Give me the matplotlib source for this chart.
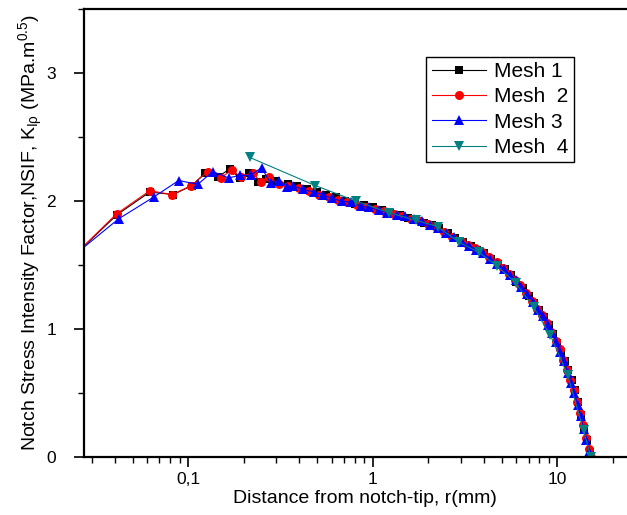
import matplotlib
matplotlib.use('Agg')
import matplotlib.pyplot as plt
from matplotlib.ticker import LogLocator, FixedLocator, FuncFormatter, NullFormatter

plt.rcParams['font.family'] = ['Liberation Sans', 'DejaVu Sans']
plt.rcParams['mathtext.default'] = 'regular'

# --- data ---
mesh1_r = [0.02, 0.041, 0.062, 0.083, 0.105, 0.124, 0.146, 0.168, 0.19, 0.213, 0.238, 0.265,
           0.30, 0.346, 0.39, 0.44, 0.50, 0.56, 0.63, 0.71, 0.80, 0.90, 1.0, 1.12, 1.25, 1.4,
           1.55, 1.72, 1.9, 2.1, 2.3, 2.55, 2.8, 3.1, 3.4, 3.7, 4.0, 4.4, 4.8, 5.2, 5.6, 6.0,
           6.5, 7.0, 7.5, 8.0, 8.5, 9.0, 9.5, 10.0, 10.5, 11.0, 11.5, 12.0, 12.5, 13.0, 13.5,
           14.0, 14.5, 15.0, 15.3]
mesh1_k = [1.46, 1.89, 2.07, 2.05, 2.12, 2.22, 2.19, 2.25, 2.18, 2.22, 2.15, 2.17,
           2.16, 2.13, 2.12, 2.09, 2.07, 2.05, 2.03, 2.00, 1.98, 1.97, 1.95, 1.93, 1.91, 1.89,
           1.87, 1.85, 1.83, 1.81, 1.79, 1.75, 1.71, 1.68, 1.65, 1.62, 1.59, 1.55, 1.51, 1.47,
           1.42, 1.37, 1.32, 1.26, 1.20, 1.15, 1.09, 1.03, 0.96, 0.89, 0.82, 0.75, 0.68, 0.60,
           0.52, 0.43, 0.33, 0.23, 0.13, 0.04, 0.0]

mesh2_r = [0.02, 0.041, 0.062, 0.082, 0.104, 0.128, 0.15, 0.172, 0.193, 0.224, 0.247, 0.273,
           0.31, 0.35, 0.40, 0.45, 0.51, 0.58, 0.65, 0.73, 0.82, 0.92, 1.03, 1.15, 1.3, 1.45,
           1.62, 1.8, 2.0, 2.2, 2.45, 2.7, 3.0, 3.3, 3.6, 3.9, 4.3, 4.7, 5.1, 5.5, 5.9, 6.3,
           6.8, 7.3, 7.8, 8.3, 8.8, 9.3, 9.8, 10.3, 10.8, 11.3, 11.8, 12.3, 12.8, 13.3, 13.8,
           14.3, 14.8, 15.2]
mesh2_k = [1.46, 1.90, 2.08, 2.05, 2.12, 2.23, 2.18, 2.24, 2.19, 2.22, 2.15, 2.19,
           2.13, 2.12, 2.10, 2.08, 2.05, 2.03, 2.01, 1.99, 1.97, 1.95, 1.94, 1.92, 1.90, 1.88,
           1.86, 1.84, 1.82, 1.80, 1.76, 1.72, 1.69, 1.66, 1.63, 1.60, 1.56, 1.52, 1.48, 1.43,
           1.38, 1.34, 1.28, 1.22, 1.16, 1.11, 1.05, 0.98, 0.91, 0.84, 0.76, 0.68, 0.60, 0.52,
           0.43, 0.34, 0.25, 0.15, 0.06, 0.0]

mesh3_r = [0.02, 0.042, 0.065, 0.089, 0.113, 0.136, 0.166, 0.19, 0.218, 0.25, 0.28, 0.31,
           0.345, 0.37, 0.42, 0.48, 0.54, 0.60, 0.68, 0.76, 0.86, 0.96, 1.08, 1.2, 1.35, 1.5,
           1.68, 1.85, 2.05, 2.25, 2.5, 2.75, 3.05, 3.35, 3.65, 3.95, 4.35, 4.75, 5.15, 5.55,
           5.95, 6.4, 6.9, 7.4, 7.9, 8.4, 8.9, 9.4, 9.9, 10.4, 10.9, 11.4, 11.9, 12.4, 12.9,
           13.4, 13.9, 14.4, 14.9, 15.2]
mesh3_k = [1.48, 1.86, 2.03, 2.16, 2.13, 2.23, 2.18, 2.20, 2.20, 2.26, 2.14, 2.16,
           2.11, 2.12, 2.09, 2.07, 2.05, 2.02, 2.00, 1.99, 1.96, 1.95, 1.93, 1.91, 1.89, 1.88,
           1.86, 1.84, 1.81, 1.79, 1.75, 1.72, 1.68, 1.65, 1.62, 1.59, 1.55, 1.51, 1.47, 1.42,
           1.38, 1.33, 1.27, 1.21, 1.15, 1.10, 1.03, 0.97, 0.90, 0.82, 0.75, 0.66, 0.58, 0.50,
           0.41, 0.32, 0.22, 0.13, 0.04, 0.0]

mesh4_r = [0.216, 0.49, 0.81, 1.22, 1.71, 2.25, 2.93, 3.75, 4.75, 5.95, 7.45, 9.2, 11.4, 13.9, 15.2]
mesh4_k = [2.34, 2.12, 2.00, 1.91, 1.85, 1.80, 1.68, 1.60, 1.49, 1.36, 1.17, 0.95, 0.64, 0.21, 0.0]

labels = ['Mesh 1', 'Mesh  2', 'Mesh 3', 'Mesh  4']
colors = ['black', '#ff0000', '#0000ff', '#008080']
markers = ['s', 'o', '^', 'v']
msizes = [6, 6.5, 6.5, 6.5]

fig = plt.figure(figsize=(6.27, 5.15), dpi=100)
ax = fig.add_axes([0.134, 0.1126, 0.895, 0.87])

series = [(mesh1_r, mesh1_k), (mesh2_r, mesh2_k), (mesh3_r, mesh3_k), (mesh4_r, mesh4_k)]
for (r, k), lab, c, m, ms in zip(series, labels, colors, markers, msizes):
    ax.plot(r, k, color=c, marker=m, markersize=ms, linewidth=0.8, label=lab,
            markeredgewidth=0)

ax.set_xscale('log')
ax.set_xlim(0.0273, 30)
ax.set_ylim(0, 3.5)

ax.xaxis.set_major_locator(FixedLocator([0.1, 1, 10]))
ax.xaxis.set_minor_locator(LogLocator(base=10, subs=range(2, 10)))
ax.xaxis.set_minor_formatter(NullFormatter())
ax.xaxis.set_major_formatter(FuncFormatter(lambda v, p: ('%g' % v).replace('.', ',')))
ax.yaxis.set_major_locator(FixedLocator([0, 1, 2, 3]))
ax.yaxis.set_minor_locator(FixedLocator([0.5, 1.5, 2.5, 3.5]))

ax.tick_params(which='major', direction='out', length=7, width=1.2, labelsize=12.5)
ax.tick_params(which='minor', direction='out', length=4, width=1.0)
ax.tick_params(axis='x', which='major', pad=4)
ax.tick_params(axis='y', which='major', pad=13)
for s in ax.spines.values():
    s.set_linewidth(1.6)

ax.set_xlabel('Distance from notch-tip, r(mm)', fontsize=14, labelpad=2)
ax.set_ylabel(r'Notch Stress Intensity Factor,NSIF, K$_{I\rho}$ (MPa.m$^{0.5}$)',
              fontsize=14, labelpad=1)

leg = ax.legend(loc='upper left', bbox_to_anchor=(0.610, 0.893), fontsize=15,
                fancybox=False, framealpha=1, edgecolor='black', handlelength=2.6,
                borderpad=0.25, labelspacing=0.3, handletextpad=0.4, borderaxespad=0)
leg.get_frame().set_linewidth(1.0)

fig.savefig('out.png', dpi=100)
